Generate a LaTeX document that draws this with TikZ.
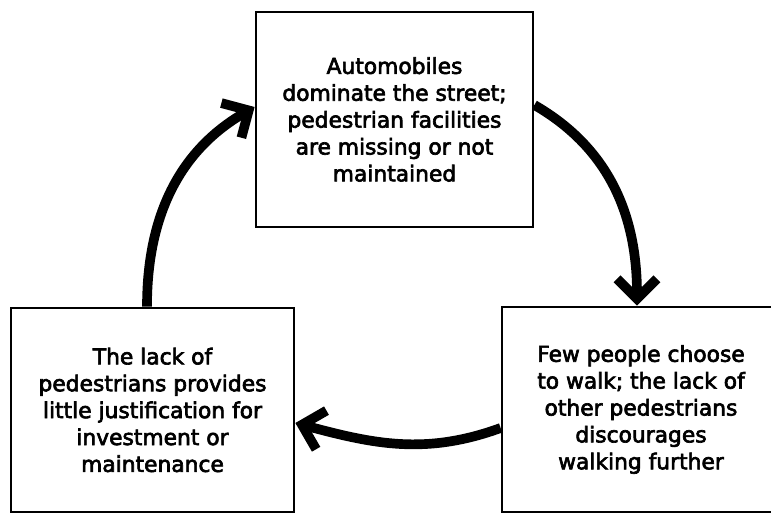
\documentclass[tikz,border=0pt]{standalone}
\usepackage{fontspec}
\setmainfont{DejaVu Sans}
\newfontfamily\boxfont[FakeBold=3]{DejaVu Sans}
\usetikzlibrary{arrows.meta, positioning}

\begin{document}
\begin{tikzpicture}[
    x=0.02cm, y=-0.02cm,
    box/.style={rectangle, draw=black, line width=1.6pt, align=center, inner sep=0pt, font=\boxfont\fontsize{12.4}{15.3}\selectfont},
    cycleline/.style={draw, line width=5.5pt, -{Straight Barb[length=4mm, width=8mm]}}
]
\useasboundingbox (0,0) rectangle (771,516);

% ─── Boxes ───────────────────────────────────────────────────────────
\node[box, minimum width=5.54cm, minimum height=4.3cm] (cars) at (394.5, 119.5) {Automobiles\\dominate the street;\\pedestrian facilities\\are missing or not\\maintained};
\node[box, minimum width=5.56cm, minimum height=4.1cm] (fewwalk) at (641, 409.5) {Few people choose\\to walk; the lack of\\other pedestrians\\discourages\\walking further};
\node[box, minimum width=5.66cm, minimum height=4.08cm] (noinvest) at (152.5, 410) {The lack of\\pedestrians provides\\little justification for\\investment or\\maintenance};

% ─── Cycle arrows (clockwise) ────────────────────────────────────────
\draw[cycleline] ([yshift=0.29cm]cars.east) to[out=-30, in=90] ([xshift=-0.08cm]fewwalk.north);
\draw[cycleline] ([yshift=-0.37cm]fewwalk.west) to[out=200, in=-15] ([yshift=-0.26cm]noinvest.east);
\draw[cycleline] ([xshift=-0.11cm]noinvest.north) to[out=90, in=210] ([yshift=0.25cm]cars.west);

\end{tikzpicture}
\end{document}
